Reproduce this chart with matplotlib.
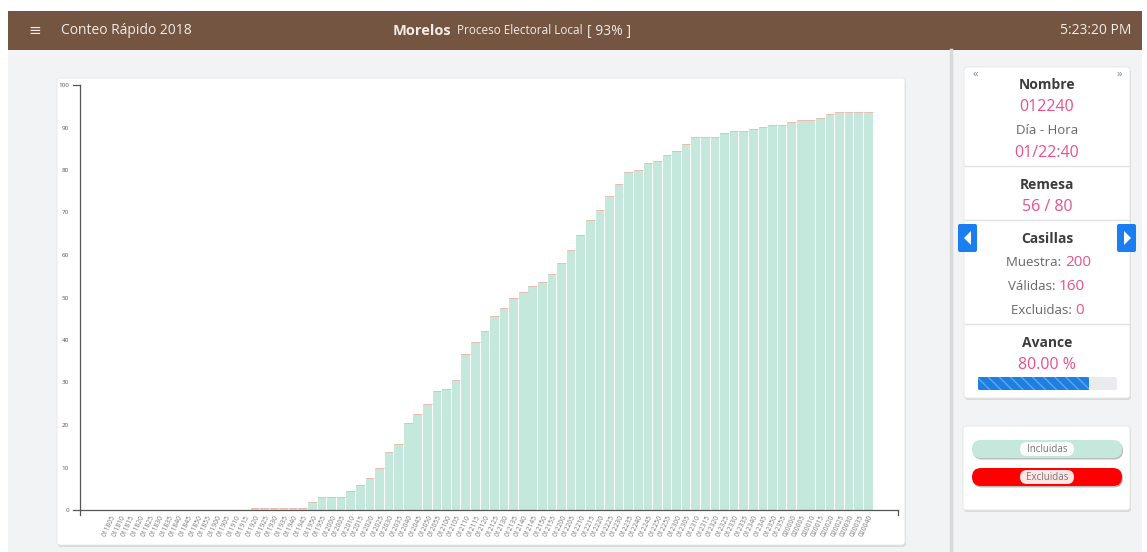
import matplotlib as mpl
mpl.use('Agg')
import matplotlib.pyplot as plt
from matplotlib.patches import FancyBboxPatch, Rectangle, Polygon

plt.rcParams['font.family'] = ['Open Sans', 'DejaVu Sans']

# remesas: every 5 minutes from 01 18:05 to 02 00:40
remesas = []
for h, d in [(18, '01'), (19, '01'), (20, '01'), (21, '01'), (22, '01'), (23, '01'), (0, '02')]:
    for m in range(0, 60, 5):
        remesas.append(f'{d}{h:02d}{m:02d}')
remesas = [r for r in remesas if '011805' <= r <= '020040' or r.startswith('02')]
remesas = [r for r in remesas if not (r.startswith('02') and r > '020040')]
remesas = [r for r in remesas if not (r.startswith('0118') and r < '011805')]

incluidas = [0] * 15 + [
    0.5, 0.5, 0.5, 0.5, 0.5, 0.5, 2.0, 3.0, 3.0, 3.0,
    4.5, 6.0, 7.5, 10.0, 13.6, 15.5, 20.5, 22.5, 25.0, 28.1,
    28.5, 30.6, 36.6, 39.5, 42.1, 45.6, 47.6, 50.0, 51.2, 52.6,
    53.6, 55.6, 58.1, 61.1, 64.6, 68.2, 70.6, 74.0, 76.6, 79.6,
    80.1, 81.6, 82.2, 83.6, 84.5, 86.2, 87.7, 87.7, 87.7, 88.6,
    89.2, 89.2, 89.6, 90.1, 90.7, 90.7, 91.2, 91.7, 91.7, 92.2,
    93.2, 93.6, 93.6, 93.6, 93.6]

W, H = 1147, 552
fig = plt.figure(figsize=(W / 100, H / 100), dpi=100)
fig.patch.set_facecolor('white')

# background layer in pixel coordinates
bg = fig.add_axes([0, 0, 1, 1])
bg.set_xlim(0, W)
bg.set_ylim(H, 0)
bg.axis('off')

bg.add_patch(Rectangle((8, 50), 1134, 502, color='#f2f3f5', lw=0))
bg.add_patch(Rectangle((8, 11), 1134, 39, color='#735542', lw=0))
bg.plot([951, 951], [50, 552], color='#d9d9d9', lw=2.5)

hc = '#f3ebe5'
bg.text(35, 31, '≡', color=hc, fontsize=11, ha='center', va='center')
bg.text(61, 31, 'Conteo Rápido 2018', color=hc, fontsize=10, va='center')
bg.text(393, 31, 'Morelos', color=hc, fontsize=10.5, fontweight='bold', va='center')
bg.text(457, 31, 'Proceso Electoral Local', color=hc, fontsize=8.5, va='center')
bg.text(587, 31, '[ 93% ]', color=hc, fontsize=10, va='center')
bg.text(1131, 31, '5:23:20 PM', color=hc, fontsize=10, ha='right', va='center')


def card(x0, y0, x1, y1):
    bg.add_patch(FancyBboxPatch((x0 + 1, y0 + 2), x1 - x0, y1 - y0,
                                boxstyle='round,pad=0,rounding_size=3',
                                fc='#d4d4d4', ec='none', alpha=0.8))
    bg.add_patch(FancyBboxPatch((x0, y0), x1 - x0, y1 - y0,
                                boxstyle='round,pad=0,rounding_size=3',
                                fc='white', ec='#e6e6e6', lw=0.6))


card(57, 78, 905, 545)
card(964, 67, 1130, 398)
card(963, 426, 1130, 510)

# side panel
pink = '#e9508e'
grey = '#666666'
dark = '#3d3d3d'
cx = 1047
bg.text(975, 74, '«', color='#888888', fontsize=8, ha='center', va='center')
bg.text(1119, 74, '»', color='#888888', fontsize=8, ha='center', va='center')
bg.text(cx, 85, 'Nombre', color=dark, fontsize=10, fontweight='bold', ha='center', va='center')
bg.text(cx, 107, '012240', color=pink, fontsize=11.5, ha='center', va='center')
bg.text(cx, 130, 'Día - Hora', color=grey, fontsize=9.5, ha='center', va='center')
bg.text(cx, 153, '01/22:40', color=pink, fontsize=11.5, ha='center', va='center')
for yy in (166, 220, 324):
    bg.plot([965, 1129], [yy, yy], color='#e3e3e3', lw=1)
bg.text(cx, 185, 'Remesa', color=dark, fontsize=10, fontweight='bold', ha='center', va='center')
bg.text(cx, 207, '56 / 80', color=pink, fontsize=11.5, ha='center', va='center')
bg.text(cx, 239, 'Casillas', color=dark, fontsize=10, fontweight='bold', ha='center', va='center')
for lab, val, ysp, xs in [('Muestra:', '200', 262, 1065),
                          ('Válidas:', '160', 286, 1059),
                          ('Excluidas:', '0', 311, 1075)]:
    bg.text(xs, ysp, lab + ' ', color=grey, fontsize=9.5, ha='right', va='center')
    bg.text(xs, ysp, val, color=pink, fontsize=11, ha='left', va='center')
bg.text(cx, 343, 'Avance', color=dark, fontsize=10, fontweight='bold', ha='center', va='center')
bg.text(cx, 365, '80.00 %', color=pink, fontsize=11.5, ha='center', va='center')
bg.add_patch(FancyBboxPatch((978, 377), 139, 13, boxstyle='round,pad=0,rounding_size=2',
                            fc='#e9ebee', ec='none'))
bg.add_patch(Rectangle((978, 377), 139 * 0.8, 13, fc='#1e7fe0', ec='#5aa8f0',
                       hatch='\\\\\\', lw=0))

# blue arrow buttons
for xb, tri in [(958, [(971, 231), (971, 245), (964, 238)]),
                (1117, [(1124, 231), (1124, 245), (1131, 238)])]:
    bg.add_patch(FancyBboxPatch((xb, 224), 19, 28, boxstyle='round,pad=0,rounding_size=2',
                                fc='#1a7ef0', ec='none'))
    bg.add_patch(Polygon(tri, closed=True, fc='white', ec='none'))

# legend pills
for yp, col, lab in [(440, '#c5e8dc', 'Incluidas'), (468, '#ff0000', 'Excluidas')]:
    bg.add_patch(FancyBboxPatch((973, yp + 1.5), 150, 18, boxstyle='round,pad=0,rounding_size=9',
                                fc='#bdbdbd', ec='none'))
    bg.add_patch(FancyBboxPatch((972, yp), 150, 18, boxstyle='round,pad=0,rounding_size=9',
                                fc=col, ec='none'))
    bg.add_patch(FancyBboxPatch((1020, yp + 2), 54, 14, boxstyle='round,pad=0,rounding_size=7',
                                fc='white', ec='none', alpha=0.9))
    bg.text(cx, yp + 9, lab, color='#777777', fontsize=7, ha='center', va='center')

# chart
ax = fig.add_axes([80 / W, (H - 510) / H, 818 / W, 425 / H])
ax.set_facecolor('none')
x = list(range(len(remesas)))
ax.bar(x, incluidas, width=0.9, color='#c5e8dc', lw=0)
ax.hlines(incluidas[15:], [i - 0.45 for i in x[15:]], [i + 0.45 for i in x[15:]],
          color='#f2b5a8', lw=0.6)
ax.set_xlim(-3.24, 82.1)
ax.set_ylim(0, 100)
ax.set_yticks(range(0, 101, 10))
ax.tick_params(axis='y', labelsize=4.5, labelcolor='#555555', length=0, pad=8)
ax.set_xticks(x)
ax.set_xticklabels(remesas, rotation=65, ha='right', va='top', rotation_mode='anchor',
                   fontsize=4.8, color='#777777')
ax.tick_params(axis='x', length=0, pad=3)
for s in ('top', 'right'):
    ax.spines[s].set_visible(False)
for s in ('left', 'bottom'):
    ax.spines[s].set_color('#555555')
    ax.spines[s].set_linewidth(0.9)
# outer ticks of the axis domain
ax.plot([0, 0], [0, -0.012], transform=ax.transAxes, color='#555555', lw=0.9, clip_on=False)
ax.plot([1, 1], [0, -0.012], transform=ax.transAxes, color='#555555', lw=0.9, clip_on=False)
ax.plot([-0.008, 0], [0, 0], transform=ax.transAxes, color='#555555', lw=0.9, clip_on=False)
ax.plot([-0.008, 0], [1, 1], transform=ax.transAxes, color='#555555', lw=0.9, clip_on=False)

plt.savefig('out.png', dpi=100)
